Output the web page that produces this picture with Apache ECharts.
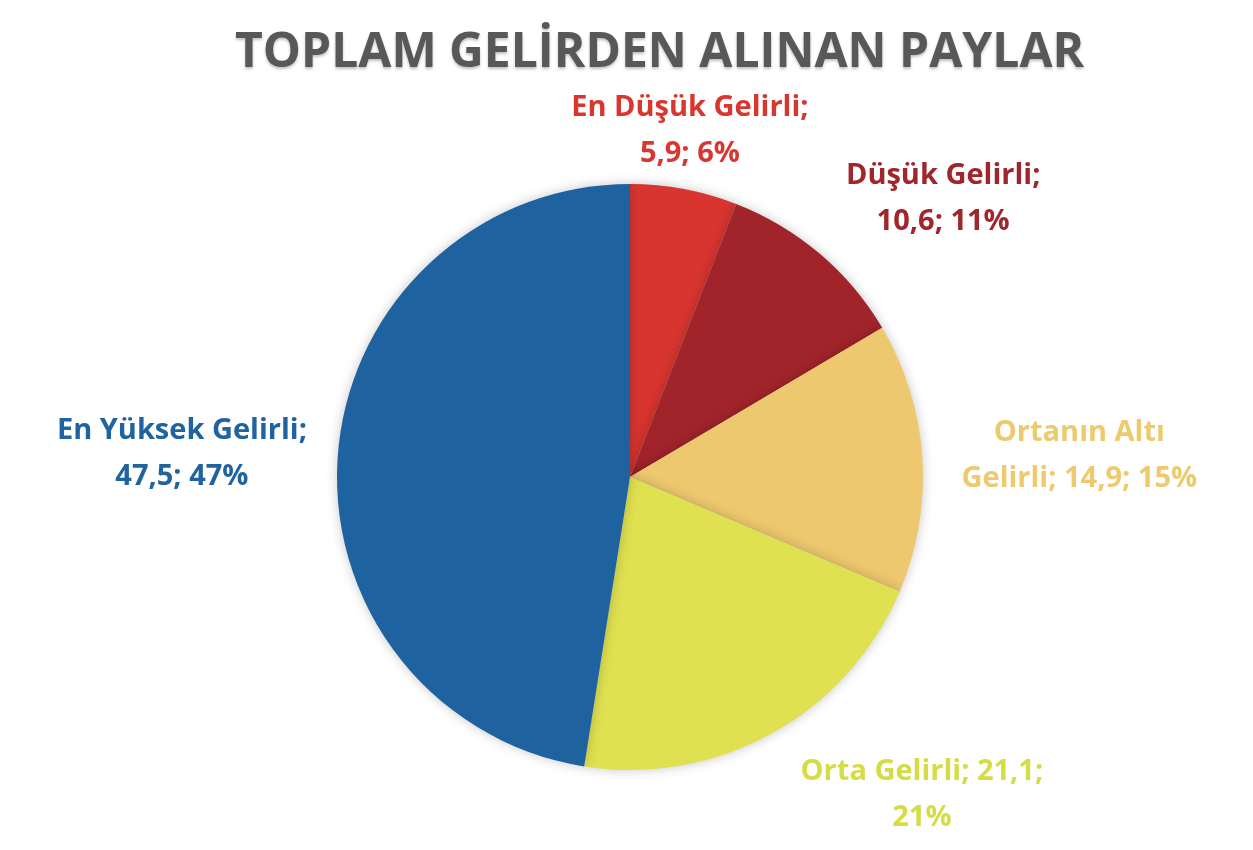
<!DOCTYPE html>
<html><head><meta charset="utf-8">
<script src="https://cdn.jsdelivr.net/npm/echarts@6/dist/echarts.min.js"></script>
<style>html,body{margin:0;padding:0;background:#fff}#c{width:1253px;height:850px}</style>
</head><body><div id="c"></div>
<script>
const titleText = 'TOPLAM GELİRDEN ALINAN PAYLAR';
const categories = ['En Düşük Gelirli', 'Düşük Gelirli', 'Ortanın Altı Gelirli', 'Orta Gelirli', 'En Yüksek Gelirli'];
const values = [5.9, 10.6, 14.9, 21.1, 47.5];
const sliceColors = ['#D93530', '#A1242A', '#EDC86F', '#E0E150', '#1E63A0'];
const labelColors = ['#D9362F', '#A0262B', '#EDCA6E', '#D6DC46', '#1F63A0'];
const breakAfterWord = [3, 2, 2, 3, 3];
// label placement (radial length, distance from line end)
const labelLen = [59, 72, 26, 70, 0];
const labelDist = [-5, 77, 131, 116, 156];

// integer percentages by largest remainder (as the original chart shows)
function roundedPercents(vals) {
  const total = vals.reduce((a, b) => a + b, 0);
  const raw = vals.map(v => v / total * 100);
  const fl = raw.map(Math.floor);
  let left = 100 - fl.reduce((a, b) => a + b, 0);
  const order = raw.map((r, i) => [r - fl[i], i]).sort((a, b) => b[0] - a[0]);
  for (let j = 0; j < left; j++) fl[order[j][1]] += 1;
  return fl;
}
const pct = roundedPercents(values);

const chart = echarts.init(document.getElementById('c'));
const data = categories.map((n, i) => ({
  name: n,
  value: values[i],
  itemStyle: { color: sliceColors[i] },
  label: { color: labelColors[i], distanceToLabelLine: labelDist[i] },
  labelLine: { length: labelLen[i], length2: 0, show: false }
}));
chart.setOption({
  backgroundColor: '#fff',
  title: {
    text: titleText, left: 230, top: 24,
    textStyle: { fontFamily: 'Open Sans', fontWeight: 'bold', fontSize: 48, color: '#585858',
      textShadowColor: 'rgba(0,0,0,0.25)', textShadowBlur: 3, textShadowOffsetY: 2 }
  },
  series: [{
    type: 'pie',
    center: [630, 477],
    radius: 293,
    startAngle: 90,
    clockwise: true,
    avoidLabelOverlap: false,
    animation: false,
    data: data,
    itemStyle: { shadowBlur: 12, shadowColor: 'rgba(0,0,0,0.22)', borderWidth: 0 },
    label: {
      show: true,
      position: 'outside',
      alignTo: 'none',
      edgeDistance: 0,
      fontFamily: 'Open Sans',
      fontWeight: 'bold',
      fontSize: 29,
      lineHeight: 46,
      formatter: function (p) {
        const full = p.name + '; ' + String(p.value).replace('.', ',') + '; ' + pct[p.dataIndex] + '%';
        const w = full.split(' ');
        const k = breakAfterWord[p.dataIndex];
        return w.slice(0, k).join(' ') + '\n' + w.slice(k).join(' ');
      }
    },
    labelLayout: function () { return { align: 'center' }; },
    emphasis: { disabled: true }
  }]
});
</script></body></html>
